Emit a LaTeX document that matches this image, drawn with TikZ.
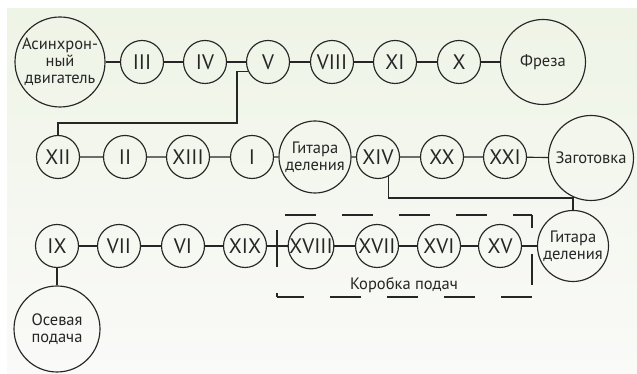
\documentclass[tikz,border=0pt]{standalone}
\usepackage{fontspec}
\setmainfont{PT Sans}
\newfontfamily\numfont{PT Sans}
\definecolor{ink}{RGB}{38,38,38}
\definecolor{paneltop}{RGB}{238,244,230}
\definecolor{panelbot}{RGB}{250,250,248}
\tikzset{
  part/.style={circle,draw=ink,line width=1.15pt,inner sep=0pt,text=ink},
  gear/.style={part,minimum size=43pt,font=\numfont\fontsize{21}{21}\selectfont},
  unit/.style={part,align=center,font=\fontsize{16.5}{17}\selectfont},
  link/.style={draw=ink,line width=1.15pt},
  boxline/.style={draw=ink,line width=1.15pt,dash pattern=on 31pt off 26pt}
}
\begin{document}
\begin{tikzpicture}[x=1pt,y=1pt]
% page and tinted panel
\fill[white] (0,0) rectangle (637,374);
\shade[top color=paneltop,bottom color=panelbot] (7,0) rectangle (637,365);
\useasboundingbox (0,0) rectangle (637,374);

% first chain: motor to cutter
\node[unit,minimum size=90pt] (motor) at (60,312) {Асинхрон-\\ный\\двигатель};
\node[gear] (g3)  at (142,312) {III};
\node[gear] (g4)  at (205,312) {IV};
\node[gear] (g5)  at (268,312) {V};
\node[gear] (g8)  at (332,312) {VIII};
\node[gear] (g11) at (395,312) {XI};
\node[gear] (g10) at (459,312) {X};
\node[unit,minimum size=85pt] (cutter) at (543,312) {Фреза};

% second chain: indexing gears to blank
\node[gear] (g12) at (58,217)  {XII};
\node[gear] (g2)  at (125,217) {II};
\node[gear] (g13) at (188,217) {XIII};
\node[gear] (g1)  at (252,217) {I};
\node[unit,minimum size=72pt] (guitarA) at (315,217) {Гитара\\деления};
\node[gear] (g14) at (378,217) {XIV};
\node[gear] (g20) at (442,217) {XX};
\node[gear] (g21) at (505,217) {XXI};
\node[unit,minimum size=85pt] (blank) at (591,216) {Заготовка};

% third chain: feed box
\node[gear] (g9)  at (57,128)  {IX};
\node[gear] (g7)  at (119,128) {VII};
\node[gear] (g6)  at (183,128) {VI};
\node[gear] (g19) at (245,128) {XIX};
\node[gear] (g18) at (311,128) {XVIII};
\node[gear] (g17) at (377,128) {XVII};
\node[gear] (g16) at (439,128) {XVI};
\node[gear] (g15) at (500,128) {XV};
\node[unit,minimum size=71pt] (guitarB) at (573,128) {Гитара\\деления};
\node[unit,minimum size=86pt] (axial) at (57,45) {Осевая\\подача};

% chains
\draw[link] (motor) -- (g3) -- (g4) -- (g5) -- (g8) -- (g11) -- (g10) -- (cutter);
\draw[link] (g12) -- (g2) -- (g13) -- (g1) -- (guitarA) -- (g14) -- (g20) -- (g21) -- (blank);
\draw[link] (g9) -- (g7) -- (g6) -- (g19) -- (g18) -- (g17) -- (g16) -- (g15) -- (guitarB);
\draw[link] (g9) -- (axial);

% cross links between chains
\coordinate (bendA) at (237,251);
\draw[link] (g5.205) -| (bendA) -| (g12.north);
\coordinate (bendB) at (573,176);
\draw[link] (g14.-62) |- (bendB) -- (guitarB.north);

% feed box outline
\coordinate (fbTL) at (277,159);
\coordinate (fbTR) at (532,159);
\coordinate (fbBR) at (532,77);
\coordinate (fbBL) at (277,77);
\draw[boxline,dash phase=49pt] (fbTL) -- (fbTR);
\draw[boxline,dash phase=18pt] (fbTR) -- (fbBR);
\draw[boxline] (fbBR) -- (fbBL);
\draw[boxline,dash pattern=on 37pt off 26pt,dash phase=33pt] (fbBL) -- (fbTL);
\node[text=ink,font=\fontsize{16.5}{17}\selectfont] (fblabel) at (404,89) {Коробка подач};
\end{tikzpicture}
\end{document}
